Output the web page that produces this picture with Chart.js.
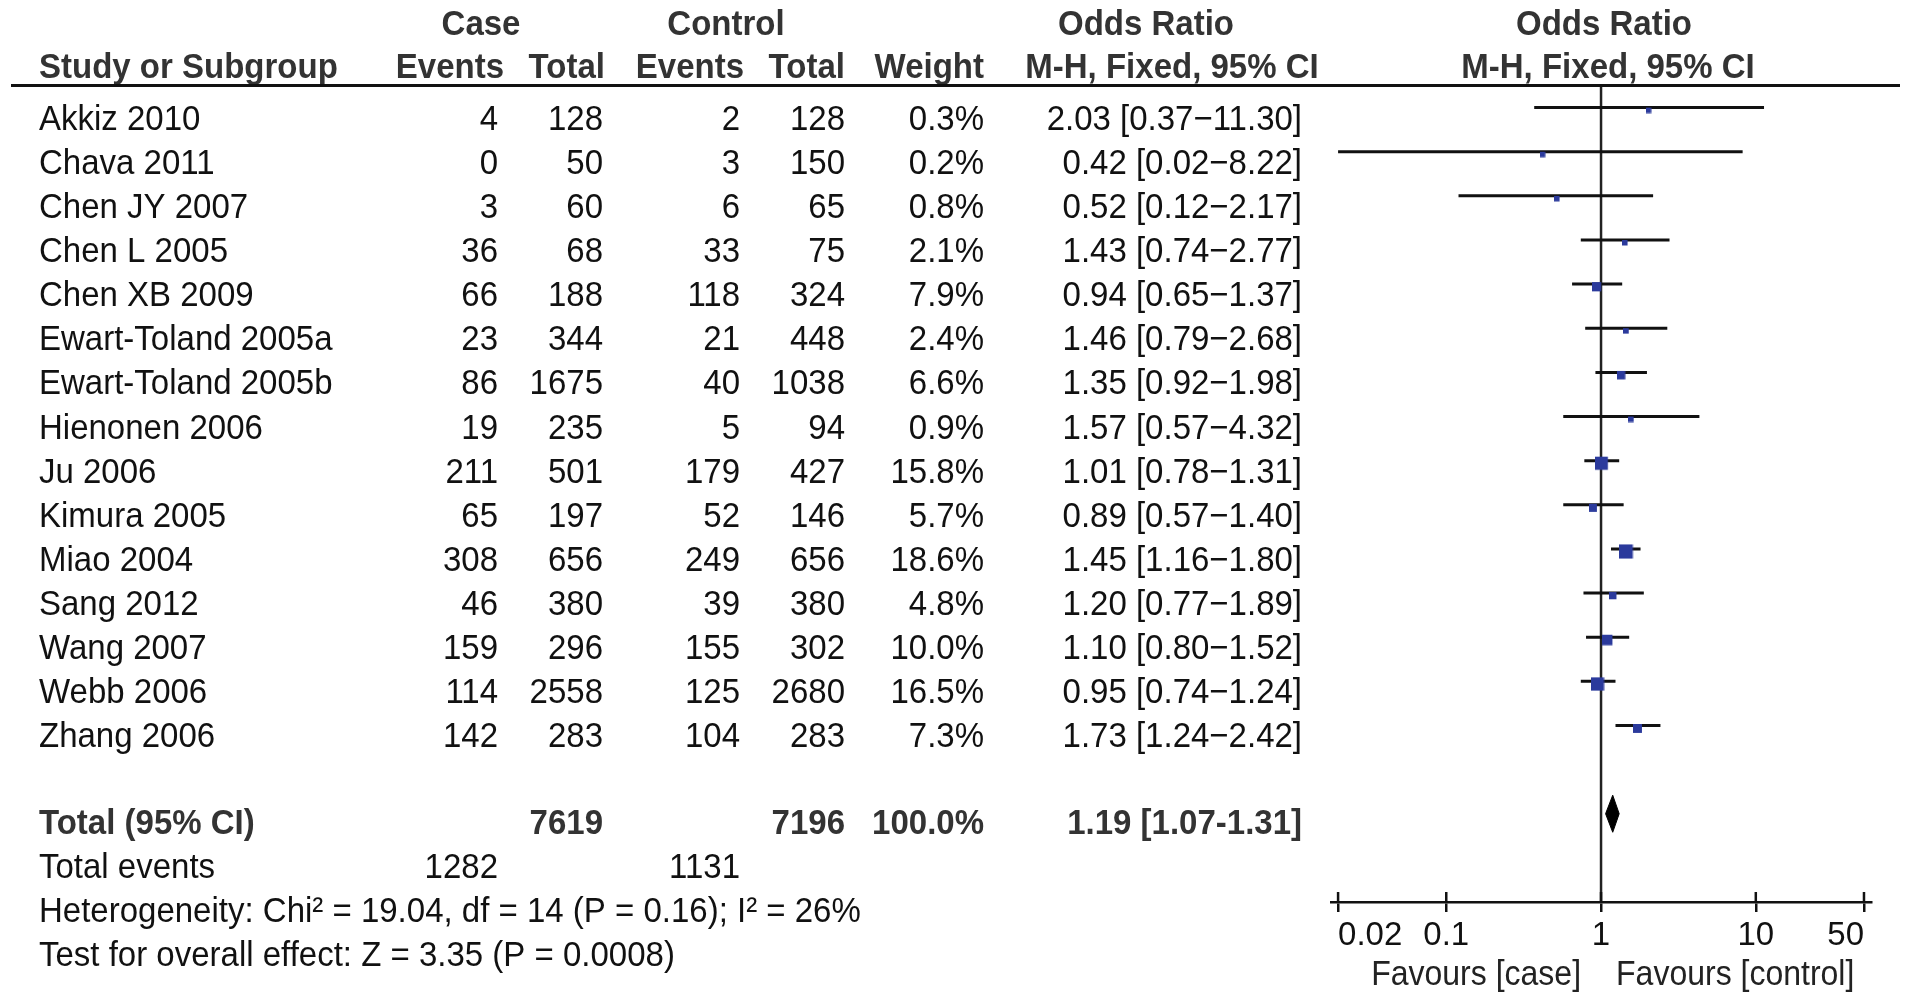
<!DOCTYPE html>
<html>
<head>
<meta charset="utf-8">
<script src="https://cdn.jsdelivr.net/npm/chart.js@4.4.0/dist/chart.umd.min.js"></script>
<style>
    html, body { margin: 0; padding: 0; background: #fff; overflow: hidden; }
    #forest { display: block; }
</style>
</head>
<body>
<canvas id="forest" width="1913" height="1005"></canvas>
<script>
// study rows, top to bottom
const studies = ['Akkiz 2010', 'Chava 2011', 'Chen JY 2007', 'Chen L 2005', 'Chen XB 2009',
    'Ewart-Toland 2005a', 'Ewart-Toland 2005b', 'Hienonen 2006', 'Ju 2006', 'Kimura 2005',
    'Miao 2004', 'Sang 2012', 'Wang 2007', 'Webb 2006', 'Zhang 2006'];
const caseEvents = [4, 0, 3, 36, 66, 23, 86, 19, 211, 65, 308, 46, 159, 114, 142];
const caseTotal = [128, 50, 60, 68, 188, 344, 1675, 235, 501, 197, 656, 380, 296, 2558, 283];
const controlEvents = [2, 3, 6, 33, 118, 21, 40, 5, 179, 52, 249, 39, 155, 125, 104];
const controlTotal = [128, 150, 65, 75, 324, 448, 1038, 94, 427, 146, 656, 380, 302, 2680, 283];
const weights = [0.3, 0.2, 0.8, 2.1, 7.9, 2.4, 6.6, 0.9, 15.8, 5.7, 18.6, 4.8, 10.0, 16.5, 7.3];
const oddsRatio = [2.03, 0.42, 0.52, 1.43, 0.94, 1.46, 1.35, 1.57, 1.01, 0.89, 1.45, 1.20, 1.10, 0.95, 1.73];
const ciLower = [0.37, 0.02, 0.12, 0.74, 0.65, 0.79, 0.92, 0.57, 0.78, 0.57, 1.16, 0.77, 0.80, 0.74, 1.24];
const ciUpper = [11.30, 8.22, 2.17, 2.77, 1.37, 2.68, 1.98, 4.32, 1.31, 1.40, 1.80, 1.89, 1.52, 1.24, 2.42];

// pooled result
const pooledOR = 1.19;
const pooledLower = 1.07;
const pooledUpper = 1.31;
const totalCase = 7619;
const totalControl = 7196;
const totalCaseEvents = 1282;
const totalControlEvents = 1131;
const heterogeneity = 'Heterogeneity: Chi² = 19.04, df = 14 (P = 0.16); I² = 26%';
const overallEffect = 'Test for overall effect: Z = 3.35 (P = 0.0008)';

// x axis
const tickValues = [0.02, 0.1, 1, 10, 50];
const tickLabels = ['0.02', '0.1', '1', '10', '50'];

const FONT = '"Liberation Sans", Arial, sans-serif';
const INK = '#111';
const GREY = '#333';
const BLUE = '#2b3a9c';
const TOTAL_ROW = studies.length + 1;

// column right edges of the table
const COL = { study: 39, caseEv: 498, caseTot: 603, ctrlEv: 740, ctrlTot: 845, weight: 984, or: 1302 };

function squareMarker(w) {
    const side = Math.max(5.5, 3.3 * Math.sqrt(w));
    const drop = 3;
    const c = document.createElement('canvas');
    c.width = Math.ceil(side);
    c.height = Math.ceil(side) + 2 * drop;
    const g = c.getContext('2d');
    g.fillStyle = BLUE;
    g.fillRect(0, 2 * drop, side, side);
    return c;
}

function fmtCI(or, lo, hi, dash) {
    return `${or.toFixed(2)} [${lo.toFixed(2)}${dash}${hi.toFixed(2)}]`;
}

// the source font is a bit taller than Arial at the same width
function text(ctx, s, x, y, align, bold, color, size) {
    ctx.save();
    ctx.font = `${bold ? 'bold ' : ''}${size || 33}px ${FONT}`;
    ctx.textAlign = align;
    ctx.textBaseline = 'alphabetic';
    ctx.fillStyle = color || INK;
    ctx.translate(x, y);
    ctx.scale(1, 1.07);
    ctx.fillText(s, 0, 0);
    ctx.restore();
}

const tablePlugin = {
    id: 'forestTable',
    afterDraw(chart) {
        const ctx = chart.ctx;
        const ys = chart.scales.y;
        const xs = chart.scales.x;
        const area = chart.chartArea;
        ctx.save();

        // header
        text(ctx, 'Case', 481, 35, 'center', true, GREY);
        text(ctx, 'Control', 726, 35, 'center', true, GREY);
        text(ctx, 'Odds Ratio', 1146, 35, 'center', true, GREY);
        text(ctx, 'Odds Ratio', 1604, 35, 'center', true, GREY);
        text(ctx, 'Study or Subgroup', COL.study, 78, 'left', true, GREY);
        text(ctx, 'Events', 504, 78, 'right', true, GREY);
        text(ctx, 'Total', 605, 78, 'right', true, GREY);
        text(ctx, 'Events', 744, 78, 'right', true, GREY);
        text(ctx, 'Total', 845, 78, 'right', true, GREY);
        text(ctx, 'Weight', 984, 78, 'right', true, GREY);
        text(ctx, 'M-H, Fixed, 95% CI', 1172, 78, 'center', true, GREY);
        text(ctx, 'M-H, Fixed, 95% CI', 1608, 78, 'center', true, GREY);

        ctx.strokeStyle = INK;
        ctx.lineWidth = 3;
        ctx.beginPath();
        ctx.moveTo(11, area.top);
        ctx.lineTo(1900, area.top);
        ctx.stroke();

        // study rows
        studies.forEach((name, i) => {
            const y = ys.getPixelForValue(i) + 22;
            text(ctx, name, COL.study, y, 'left');
            text(ctx, String(caseEvents[i]), COL.caseEv, y, 'right');
            text(ctx, String(caseTotal[i]), COL.caseTot, y, 'right');
            text(ctx, String(controlEvents[i]), COL.ctrlEv, y, 'right');
            text(ctx, String(controlTotal[i]), COL.ctrlTot, y, 'right');
            text(ctx, weights[i].toFixed(1) + '%', COL.weight, y, 'right');
            text(ctx, fmtCI(oddsRatio[i], ciLower[i], ciUpper[i], '\u2212'), COL.or, y, 'right');
        });

        // totals
        let y = ys.getPixelForValue(TOTAL_ROW) + 20;
        text(ctx, 'Total (95% CI)', COL.study, y, 'left', true, GREY);
        text(ctx, String(totalCase), COL.caseTot, y, 'right', true, GREY);
        text(ctx, String(totalControl), COL.ctrlTot, y, 'right', true, GREY);
        text(ctx, '100.0%', COL.weight, y, 'right', true, GREY);
        text(ctx, fmtCI(pooledOR, pooledLower, pooledUpper, '-'), COL.or, y, 'right', true, GREY);

        y = ys.getPixelForValue(TOTAL_ROW + 1) + 20;
        text(ctx, 'Total events', COL.study, y, 'left');
        text(ctx, String(totalCaseEvents), COL.caseEv, y, 'right');
        text(ctx, String(totalControlEvents), COL.ctrlEv, y, 'right');
        text(ctx, heterogeneity, COL.study, ys.getPixelForValue(TOTAL_ROW + 2) + 20, 'left');
        text(ctx, overallEffect, COL.study, ys.getPixelForValue(TOTAL_ROW + 3) + 20, 'left');

        // upper half of the axis tick marks
        ctx.lineWidth = 2.5;
        tickValues.forEach(v => {
            const px = xs.getPixelForValue(v);
            ctx.beginPath();
            ctx.moveTo(px, area.bottom - 10);
            ctx.lineTo(px, area.bottom);
            ctx.stroke();
        });

        const one = xs.getPixelForValue(1);
        text(ctx, 'Favours [case]', one - 20, 985, 'right', false, '#222', 32);
        text(ctx, 'Favours [control]', one + 15, 985, 'left', false, '#222', 32);
        ctx.restore();
    }
};

const ciDatasets = studies.map((s, i) => ({
    type: 'line',
    label: s,
    data: [{ x: ciLower[i], y: i }, { x: ciUpper[i], y: i }],
    borderColor: INK,
    borderWidth: 3,
    borderCapStyle: 'butt',
    pointRadius: 0,
    order: 3
}));

new Chart(document.getElementById('forest'), {
    type: 'scatter',
    data: {
        datasets: [
            {
                label: 'Odds ratio',
                data: oddsRatio.map((v, i) => ({ x: v, y: i })),
                pointStyle: weights.map(squareMarker),
                pointRadius: 5,
                order: 1
            },
            {
                type: 'line',
                label: 'Total',
                data: [
                    { x: pooledLower, y: TOTAL_ROW },
                    { x: pooledOR, y: TOTAL_ROW - 0.42 },
                    { x: pooledUpper, y: TOTAL_ROW },
                    { x: pooledOR, y: TOTAL_ROW + 0.42 },
                    { x: pooledLower, y: TOTAL_ROW }
                ],
                borderColor: '#000',
                backgroundColor: '#000',
                borderWidth: 1,
                pointRadius: 0,
                fill: 'shape',
                tension: 0,
                order: 2
            },
            ...ciDatasets,
            {
                type: 'line',
                label: 'No effect',
                data: [{ x: 1, y: -0.5 }, { x: 1, y: 18 }],
                borderColor: '#222',
                borderWidth: 2.5,
                pointRadius: 0,
                order: 4
            }
        ]
    },
    options: {
        responsive: false,
        animation: false,
        devicePixelRatio: 1,
        layout: { padding: { left: 1331, right: 42, top: 85.5, bottom: 0 } },
        plugins: {
            legend: { display: false },
            tooltip: { enabled: false }
        },
        scales: {
            x: {
                type: 'logarithmic',
                bounds: 'data',
                min: 0.018,
                max: 55.5,
                afterBuildTicks: scale => {
                    scale.ticks = tickValues.map(v => ({ value: v }));
                },
                afterFit: scale => {
                    scale.height = 103;
                },
                ticks: {
                    callback: (v, i) => tickLabels[i],
                    align: 'inner',
                    autoSkip: false,
                    maxRotation: 0,
                    padding: 4,
                    color: INK,
                    font: { family: FONT, size: 33 }
                },
                grid: {
                    drawOnChartArea: false,
                    drawTicks: true,
                    tickLength: 10,
                    lineWidth: 2.5,
                    color: INK
                },
                border: { display: true, color: INK, width: 2.5 }
            },
            y: {
                type: 'linear',
                reverse: true,
                min: -0.5,
                max: 18,
                display: false
            }
        }
    },
    plugins: [tablePlugin]
});
</script>
</body>
</html>
